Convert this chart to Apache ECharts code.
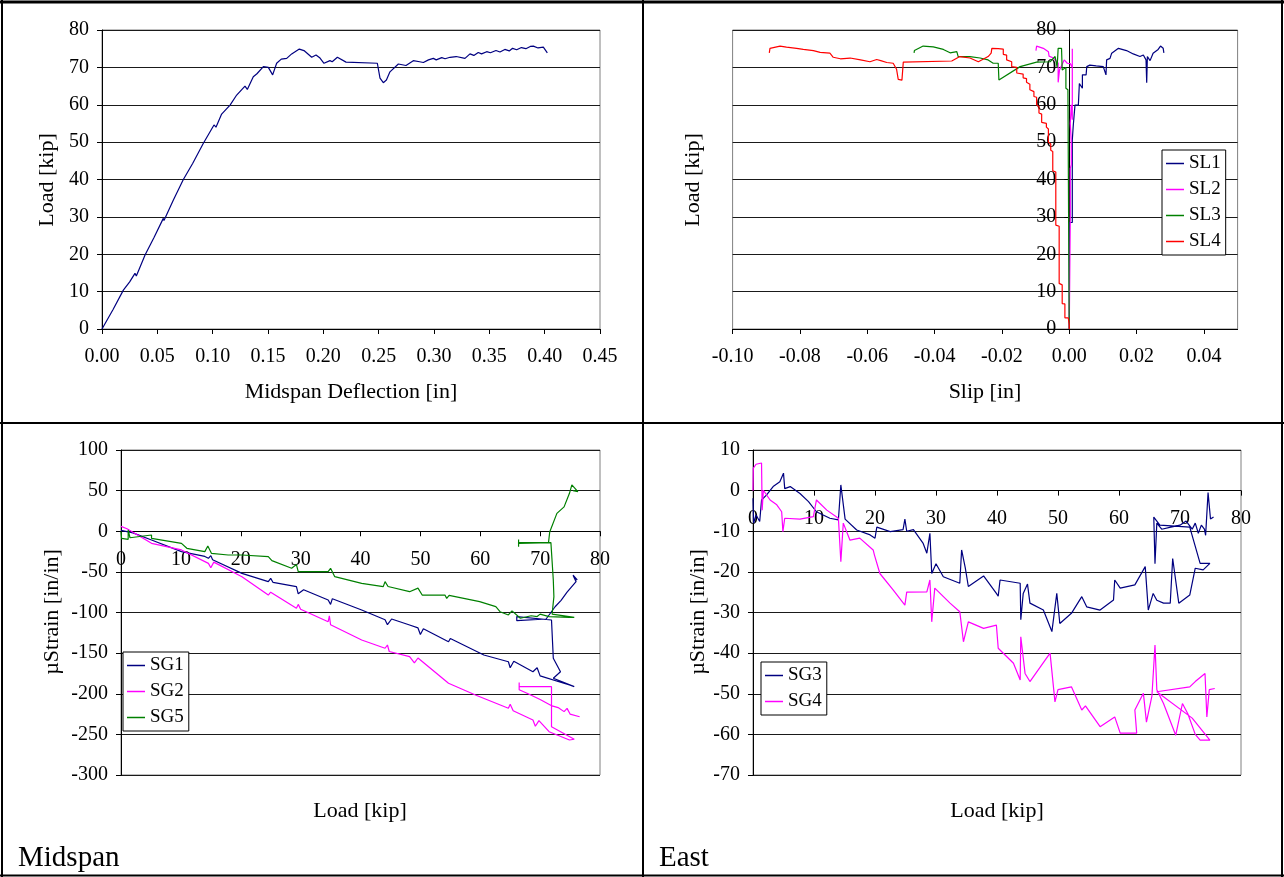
<!DOCTYPE html>
<html>
<head>
<meta charset="utf-8">
<script src="https://cdn.jsdelivr.net/npm/echarts/dist/echarts.min.js"></script>
<style>
html,body{margin:0;padding:0;background:#fff;}
#chart{width:1284px;height:877px;}
</style>
</head>
<body>
<div id="chart"></div>
<script>
// ---------- DATA ----------
// Panel 1: Midspan deflection [in] vs load [kip]
const deflectionLoad = [[0,0],[0.010,5.2],[0.0193,10.4],[0.025,12.6],[0.0298,14.9],[0.031,14.2],[0.033,15.6],[0.0389,19.8],[0.040,19.5],[0.047,24.5],[0.0554,29.6],[0.056,29.0],[0.0645,34.5],[0.066,34.0],[0.0735,40.0],[0.075,39.6],[0.0819,44.3],[0.083,43.8],[0.0916,49.7],[0.093,49.2],[0.1012,54.6],[0.103,54.0],[0.1081,57.5],[0.1157,59.9],[0.117,59.4],[0.1217,62.6],[0.1292,65.0],[0.1313,64.1],[0.1367,67.5],[0.140,68.3],[0.1458,70.2],[0.1503,70.0],[0.1542,68.0],[0.1578,71.1],[0.162,72.2],[0.1669,72.4],[0.1714,73.6],[0.1783,74.9],[0.1825,74.5],[0.1895,72.7],[0.1934,73.3],[0.1970,72.5],[0.2006,71.1],[0.2060,71.8],[0.2080,71.5],[0.2127,72.7],[0.2205,71.4],[0.2488,71.1],[0.2512,67.1],[0.2542,65.9],[0.2570,66.6],[0.2602,68.8],[0.2678,70.9],[0.2747,70.5],[0.2813,71.8],[0.2870,71.5],[0.2904,71.3],[0.2950,72.0],[0.2994,72.4],[0.3020,72.0],[0.3070,72.6],[0.3100,72.3],[0.3145,72.7],[0.3200,72.9],[0.3280,72.4],[0.3325,73.6],[0.3360,73.2],[0.3400,74.0],[0.3430,73.6],[0.3476,74.2],[0.3510,73.9],[0.3560,74.5],[0.3596,74.1],[0.3640,74.8],[0.3680,74.4],[0.3710,75.1],[0.3747,74.7],[0.3790,75.3],[0.3830,75.0],[0.3870,75.6],[0.3898,75.7],[0.3940,75.2],[0.3988,75.4],[0.4024,73.9]];

// Panel 2: Slip [in] vs load [kip]
const SL1 = [[0,0],[0,28.5],[0.0009,28.5],[0.0009,50.6],[0.0012,54.6],[0.0017,54.1],[0.0017,59.9],[0.0027,59.9],[0.0030,65.7],[0.0039,64.4],[0.0039,68.0],[0.0050,68.0],[0.0052,70.2],[0.0061,70.6],[0.0080,70.4],[0.0101,70.2],[0.0104,70.2],[0.0109,68.0],[0.0111,72.0],[0.0121,72.4],[0.0126,73.8],[0.0146,75.1],[0.0170,74.5],[0.0190,73.6],[0.0210,72.9],[0.0220,73.3],[0.0228,72.0],[0.0230,65.9],[0.0232,72.9],[0.0240,71.8],[0.0249,73.8],[0.0264,74.8],[0.0271,75.7],[0.0279,75.1],[0.0281,73.9]];
const SL2 = [[0,0],[0.0003,30],[0.0003,43],[0.0006,44],[0.0006,50],[0.0003,55],[0.0006,60],[0.0009,56],[0.0009,75],[0.0009,70],[0.0003,71],[-0.0006,71.1],[-0.0015,72],[-0.0029,69.3],[-0.0033,66],[-0.0033,71.1],[-0.0047,72.5],[-0.0060,73],[-0.0062,74.2],[-0.0077,75.1],[-0.0097,75.7],[-0.0099,74.5]];
const SL3 = [[0,0],[-0.0002,30],[-0.0004,64],[-0.0010,64.4],[-0.0010,70],[-0.0015,70.2],[-0.0021,69.3],[-0.0023,75.1],[-0.0033,75.1],[-0.0036,70],[-0.0042,72.9],[-0.0057,71.5],[-0.0097,71.4],[-0.0146,70.2],[-0.0209,66.6],[-0.0211,66.2],[-0.0211,71.1],[-0.0226,71.1],[-0.0241,72.0],[-0.0265,72.5],[-0.0295,72.9],[-0.0330,72.9],[-0.0334,74.2],[-0.0354,73.9],[-0.0374,74.8],[-0.0404,75.5],[-0.0434,75.7],[-0.0460,74.5],[-0.0461,73.9]];
const SL4 = [[0,0],[0,1.1],[-0.0003,1.1],[-0.0003,3.0],[-0.0013,3.0],[-0.0013,6.7],[-0.0021,6.8],[-0.0021,11.8],[-0.0030,12.2],[-0.0030,27.5],[-0.0040,27.8],[-0.0040,42.0],[-0.0049,42.3],[-0.0049,47.5],[-0.0055,47.8],[-0.0055,49.5],[-0.0062,50.0],[-0.0062,53.5],[-0.0068,54.0],[-0.0068,55.0],[-0.0082,55.3],[-0.0082,57.5],[-0.0090,57.8],[-0.0090,59.5],[-0.0097,60.0],[-0.0097,62.0],[-0.0105,62.2],[-0.0105,63.5],[-0.0117,64.0],[-0.0117,65.5],[-0.0127,66.0],[-0.0127,67.0],[-0.0137,67.2],[-0.0137,68.2],[-0.0156,68.5],[-0.0156,70.0],[-0.0171,70.2],[-0.0171,71.5],[-0.0186,72.0],[-0.0186,73.3],[-0.0196,73.5],[-0.0196,74.9],[-0.0211,75.0],[-0.0230,75.1],[-0.0232,73.8],[-0.0241,72.9],[-0.0270,71.5],[-0.0295,72.5],[-0.0325,72.9],[-0.0349,71.7],[-0.0493,71.4],[-0.0497,66.6],[-0.0501,66.2],[-0.0508,66.8],[-0.0513,69.5],[-0.0523,71.1],[-0.0542,71.3],[-0.0560,71.8],[-0.0572,72.1],[-0.0592,71.5],[-0.0620,72.0],[-0.0651,72.5],[-0.0680,72.3],[-0.0701,72.7],[-0.0711,73.8],[-0.0740,74.0],[-0.0760,74.5],[-0.0790,74.8],[-0.0810,75.1],[-0.0840,75.4],[-0.0859,75.7],[-0.0889,75.1],[-0.0891,73.9]];

// Panel 3: Midspan strain gauges, load [kip] vs microstrain
const SG1 = [[0,1],[2,-2],[5.1,-10.8],[10.1,-25.1],[14.0,-31],[14.6,-33.3],[15,-30],[15.3,-35],[20.2,-51.8],[24.6,-62],[25,-58],[25.4,-63],[29.3,-68.2],[29.6,-77],[30.5,-72],[34.6,-84.6],[35,-90],[35.3,-83],[40.2,-96.9],[44.1,-109],[44.5,-115],[45.2,-108],[48.2,-115.4],[49.6,-119],[50,-127],[50.5,-120],[54.7,-136],[55,-132],[60.6,-152.3],[64.7,-160.6],[65,-168],[65.6,-160],[68.8,-172.9],[69.5,-168],[70,-178],[74.9,-189.2],[75.7,-191.3],[72.2,-181],[73.4,-173],[72.2,-156.4],[71.9,-109.2],[66.1,-105],[66.1,-110],[71,-108],[72.5,-92.9],[73.5,-85],[74.5,-75],[76,-62],[75.5,-54],[76.2,-60]];
const SG2 = [[0,6],[1,3],[5.1,-14.9],[10.1,-23],[14.6,-39.5],[15,-45],[15.5,-38],[20.2,-55.9],[24.6,-78.5],[25,-75],[29.3,-94.9],[29.6,-90],[30,-96],[34.6,-111.3],[34.8,-104],[35,-115],[40.2,-133.8],[44.1,-144],[44.5,-140],[44.8,-148],[48.2,-154.4],[49,-162],[49.6,-156],[54.7,-187.1],[59.2,-201.5],[64.7,-217.9],[65,-213],[65.5,-221],[68.8,-232.3],[69.2,-240],[69.8,-233],[71.5,-246.7],[74.9,-256.9],[75.7,-256],[71.9,-240.6],[71.9,-191.3],[66.5,-191],[66.5,-186],[66.5,-195],[68,-200],[70,-207],[72,-215],[73,-217],[74,-222],[74.5,-218],[75,-225],[76.6,-228.3]];
const SG5 = [[0,-0.5],[0.1,-8.7],[1.2,-9.9],[1.2,1.6],[1.5,-8],[5.1,-4.6],[5.1,-8.7],[10.1,-14.9],[11.0,-21],[14.0,-25.1],[14.5,-18.2],[15.1,-27.2],[17.9,-29.2],[20.2,-29.2],[24.6,-31.3],[25.2,-36.2],[28.5,-45.6],[29.3,-41],[29.6,-49.7],[31.3,-49.7],[34.6,-49.7],[35,-45.6],[35.7,-55.9],[40.2,-64.1],[43.8,-68.2],[44.1,-62],[44.6,-68],[48.2,-74.4],[49.6,-70],[50.3,-78.5],[54.1,-78.5],[54.4,-82.6],[54.8,-79],[59.9,-86.7],[62.6,-92.8],[63.3,-99],[64.7,-103],[65.3,-98],[66.7,-107.1],[68.5,-104],[69.5,-105],[70,-102],[71.5,-105],[74.9,-106],[75.7,-106],[72,-102],[72.3,-80.5],[72.2,-60],[71.8,-14],[66.4,-15],[66.4,-10],[66.4,-19],[66.4,-14],[71.4,-14],[71.6,-1],[72.8,22],[74,30],[74.9,46.7],[75.3,57],[76.3,48.7],[75.5,50]];

// Panel 4: East strain gauges, load [kip] vs microstrain
const SG3 = [[0,-1.9],[0.1,-8],[0.5,-6],[1.1,-7.6],[1.4,-2.3],[2.2,-1.1],[3.3,1],[4.4,2.2],[5.0,4.3],[5.2,0.5],[6.1,1],[7.7,-0.7],[9.1,-2.7],[10.4,-5.2],[12.6,-6.8],[14.0,-7.2],[14.4,1.4],[15.1,-7],[17.0,-9.7],[19.2,-10.9],[20.0,-11.7],[20.3,-9],[22.5,-10.1],[24.6,-9.6],[24.9,-7],[25.2,-10],[26.3,-9.6],[27.9,-13],[28.5,-15.4],[29.0,-10.5],[29.3,-20.4],[30,-18],[31.2,-21.2],[33.9,-22.8],[34.2,-14.6],[34.8,-19],[35.3,-23.6],[37.8,-21],[39.9,-25.3],[40.2,-26],[40.5,-22],[43.8,-22.8],[43.9,-31.8],[44.3,-25.3],[45.0,-23],[45.4,-27.7],[47.6,-29.4],[49.0,-34.7],[49.8,-25.3],[50.3,-32.7],[52.2,-30.2],[53.9,-26.1],[54.7,-28.6],[56.9,-29.4],[59.1,-26.9],[59.3,-22],[60.2,-24],[62.6,-23.2],[64.3,-18.7],[64.8,-29.4],[65.6,-25.3],[66.2,-27],[67.3,-27.7],[68.4,-27.7],[68.8,-16.7],[69.8,-27.7],[71.6,-25.7],[72.5,-19.1],[73.8,-19.5],[74.9,-17.9],[73.3,-17.9],[71.6,-9],[66.7,-8.5],[65.7,-6.5],[65.9,-18],[66.2,-8],[67,-9.5],[68.5,-9],[70,-8.5],[71,-7.5],[72,-9.5],[72.5,-8],[73,-10.5],[73.5,-8.5],[74,-9.5],[74.2,-11],[74.6,-0.5],[75,-7],[75.5,-6.5]];
const SG4 = [[0,0],[0.05,5.5],[0.5,6.5],[1.4,6.8],[1.5,-4.8],[1.7,0.1],[2.8,-2.3],[3.9,-3.5],[4.7,-5.2],[4.9,-10.1],[5.2,-6.8],[7.7,-7],[9.9,-6.4],[10.4,-2.3],[12.1,-4.8],[14.0,-6.8],[14.4,-17.5],[14.8,-8],[15.9,-12.2],[17.5,-11.7],[19.7,-14.6],[19.9,-15.8],[20.8,-20.4],[23.0,-24.5],[24.9,-28.2],[25.2,-25],[28.5,-24.9],[29.0,-22],[29.3,-32.3],[29.8,-24],[32.3,-27.7],[33.9,-29.8],[34.5,-37.2],[35.3,-32.3],[37.8,-33.9],[39.9,-33.1],[40.2,-38.8],[42.7,-42.5],[43.8,-46.6],[43.9,-36],[44.6,-45],[45.4,-47],[48.7,-40],[49.5,-52],[50,-49],[52.2,-48.3],[53.9,-54],[54.5,-53],[56.9,-58.1],[59.3,-55.7],[60.2,-59.7],[62.9,-59.7],[62.6,-54],[64.0,-49.9],[64.5,-57],[65.4,-50.5],[65.9,-38],[66.2,-49],[67.3,-52.4],[69.3,-60.2],[70.4,-52.4],[71.3,-55],[72.5,-60],[73.3,-61.4],[74.9,-61.4],[72,-56],[66.2,-49.5],[71.6,-48.3],[72.5,-47],[74.1,-45],[74.4,-55.7],[74.8,-49],[75.7,-48.7]];

// Axis titles / panel labels
const axisTitles = {
  p1x: 'Midspan Deflection [in]', p1y: 'Load [kip]',
  p2x: 'Slip [in]', p2y: 'Load [kip]',
  p3x: 'Load [kip]', p3y: 'µStrain [in/in]',
  p4x: 'Load [kip]', p4y: 'µStrain [in/in]'
};
const panelLabels = ['Midspan', 'East'];

// ---------- CHART ----------
const FONT = '"Liberation Serif", "Times New Roman", serif';
const NAVY = '#000080', MAGENTA = '#FF00FF', GREEN = '#008000', RED = '#FF0000';

function xAx(grid, min, max, interval, fmt, offset) {
  return {
    gridIndex: grid, type: 'value', min: min, max: max, interval: interval, offset: offset || 0,
    axisLine: { onZero: false, lineStyle: { color: '#000', width: 1 } },
    axisTick: { show: true, length: 5, lineStyle: { color: '#000' } },
    axisLabel: { fontSize: 20, fontFamily: FONT, color: '#000', margin: 18, formatter: fmt },
    splitLine: { show: false }
  };
}
function yAx(grid, min, max, interval, offset) {
  return {
    gridIndex: grid, type: 'value', min: min, max: max, interval: interval, offset: offset || 0,
    axisLine: { onZero: false, lineStyle: { color: '#000', width: 1 } },
    axisTick: { show: true, length: 5, lineStyle: { color: '#000' } },
    axisLabel: { fontSize: 20, fontFamily: FONT, color: '#000', margin: 13 },
    splitLine: { show: true, lineStyle: { color: '#1a1a1a', width: 1 } }
  };
}
const f2 = v => (Math.abs(v) < 1e-9 ? '0.00' : v.toFixed(2));
const f0 = v => String(Math.round(v));

function line(name, x, y, data, color) {
  return {
    name: name, type: 'line', xAxisIndex: x, yAxisIndex: y, data: data,
    showSymbol: false, symbol: 'none', smooth: false, color: color,
    lineStyle: { color: color, width: 1.2 }, itemStyle: { color: color },
    animation: false, z: 3
  };
}

function legendCfg(names, left, top) {
  return {
    data: names, left: left, top: top, orient: 'vertical',
    backgroundColor: '#fff', borderColor: '#000', borderWidth: 1,
    padding: [4, 5, 4, 4], itemGap: 7, itemWidth: 18, itemHeight: 1.5, icon: 'rect',
    textStyle: { fontSize: 19, fontFamily: FONT, color: '#000' }, selectedMode: false
  };
}

function title(text, x, y, rot, size) {
  return {
    type: 'text', x: x, y: y, rotation: rot || 0, z: 10,
    style: { text: text, font: (size || 22) + 'px ' + FONT, fill: '#000',
      textAlign: 'center', textVerticalAlign: 'middle', align: 'center', verticalAlign: 'middle' }
  };
}
function hline(x1, y1, x2, y2, w) {
  return { type: 'line', z: 20, shape: { x1: x1, y1: y1, x2: x2, y2: y2 }, style: { stroke: '#000', lineWidth: w || 2 } };
}

// grid geometry
const G = [
  { left: 102, top: 30, width: 498, height: 299 },
  { left: 732.6, top: 30, width: 505, height: 299 },
  { left: 121, top: 450, width: 479, height: 325 },
  { left: 753, top: 450, width: 488, height: 325 }
];
// offsets that bring the crossing axes onto the zero lines
const p2yOffset = -G[1].width * (0.10 / 0.15);
const p3xOffset = -G[2].height * (300 / 400);
const p4xOffset = -G[3].height * (70 / 80);

const option = {
  backgroundColor: '#fff',
  animation: false,
  grid: G.map(g => Object.assign({ show: true, borderColor: '#808080', borderWidth: 1, backgroundColor: 'transparent' }, g)),
  xAxis: [
    xAx(0, 0, 0.45, 0.05, f2),
    xAx(1, -0.10, 0.05, 0.02, f2),
    xAx(2, 0, 80, 10, f0, p3xOffset),
    xAx(3, 0, 80, 10, f0, p4xOffset)
  ],
  yAxis: [
    yAx(0, 0, 80, 10),
    yAx(1, 0, 80, 10, p2yOffset),
    yAx(2, -300, 100, 50),
    yAx(3, -70, 10, 10)
  ],
  legend: [
    legendCfg(['SL1', 'SL2', 'SL3', 'SL4'], 1162, 150),
    legendCfg(['SG1', 'SG2', 'SG5'], 123, 652),
    legendCfg(['SG3', 'SG4'], 761, 662)
  ],
  series: [
    line('Load', 0, 0, deflectionLoad, NAVY),
    line('SL1', 1, 1, SL1, NAVY),
    line('SL2', 1, 1, SL2, MAGENTA),
    line('SL3', 1, 1, SL3, GREEN),
    line('SL4', 1, 1, SL4, RED),
    line('SG1', 2, 2, SG1, NAVY),
    line('SG2', 2, 2, SG2, MAGENTA),
    line('SG5', 2, 2, SG5, GREEN),
    line('SG3', 3, 3, SG3, NAVY),
    line('SG4', 3, 3, SG4, MAGENTA)
  ],
  graphic: [
    title(axisTitles.p1x, 351, 392),
    title(axisTitles.p1y, 47, 180, Math.PI / 2),
    title(axisTitles.p2x, 985, 392),
    title(axisTitles.p2y, 693, 180, Math.PI / 2),
    title(axisTitles.p3x, 360, 811),
    title(axisTitles.p3y, 52, 612, Math.PI / 2),
    title(axisTitles.p4x, 997, 811),
    title(axisTitles.p4y, 698, 612, Math.PI / 2),
    { type: 'text', x: 18, y: 858, z: 10, style: { text: panelLabels[0], font: '29px ' + FONT, fill: '#000', textAlign: 'left', textVerticalAlign: 'middle', align: 'left', verticalAlign: 'middle' } },
    { type: 'text', x: 659, y: 858, z: 10, style: { text: panelLabels[1], font: '29px ' + FONT, fill: '#000', textAlign: 'left', textVerticalAlign: 'middle', align: 'left', verticalAlign: 'middle' } },
    hline(0, 2, 1284, 2, 3),
    hline(2, 0, 2, 877, 2),
    hline(1282, 0, 1282, 877, 2),
    hline(0, 875.5, 1284, 875.5, 2),
    hline(643, 0, 643, 877, 2),
    hline(0, 423, 1284, 423, 2)
  ]
};
option.xAxis[1].axisLabel.showMaxLabel = false;

const chart = echarts.init(document.getElementById('chart'), null, { renderer: 'canvas' });
chart.setOption(option);
</script>
</body>
</html>
